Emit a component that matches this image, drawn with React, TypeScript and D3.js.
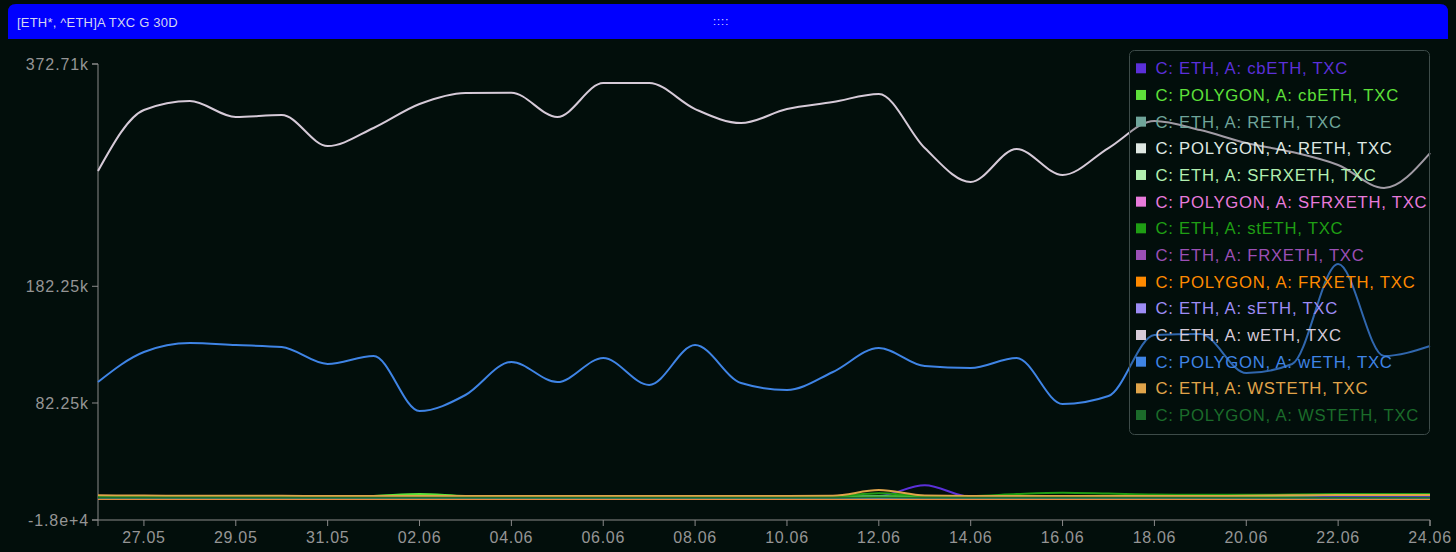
import React from "react";
import * as d3 from "d3";

const title = "[ETH*, ^ETH]A TXC G 30D";
const dragHandle = "::::";

const dates = [
  "2023-05-26", "2023-05-27", "2023-05-28", "2023-05-29", "2023-05-30", "2023-05-31",
  "2023-06-01", "2023-06-02", "2023-06-03", "2023-06-04", "2023-06-05", "2023-06-06",
  "2023-06-07", "2023-06-08", "2023-06-09", "2023-06-10", "2023-06-11", "2023-06-12",
  "2023-06-13", "2023-06-14", "2023-06-15", "2023-06-16", "2023-06-17", "2023-06-18",
  "2023-06-19", "2023-06-20", "2023-06-21", "2023-06-22", "2023-06-23", "2023-06-24",
];

const seriesNames = [
  "C: ETH, A: cbETH, TXC",
  "C: POLYGON, A: cbETH, TXC",
  "C: ETH, A: RETH, TXC",
  "C: POLYGON, A: RETH, TXC",
  "C: ETH, A: SFRXETH, TXC",
  "C: POLYGON, A: SFRXETH, TXC",
  "C: ETH, A: stETH, TXC",
  "C: ETH, A: FRXETH, TXC",
  "C: POLYGON, A: FRXETH, TXC",
  "C: ETH, A: sETH, TXC",
  "C: ETH, A: wETH, TXC",
  "C: POLYGON, A: wETH, TXC",
  "C: ETH, A: WSTETH, TXC",
  "C: POLYGON, A: WSTETH, TXC",
];

const seriesColors = [
  "#5b30d9", "#5ee03a", "#6fa59a", "#dfe8e2", "#b2f0b0", "#e87adb", "#1f9e14",
  "#9b4fb5", "#ff8a00", "#9d8cf5", "#d6cad8", "#3f84e5", "#e0a44a", "#1b6b2a",
];

// values in thousands of transactions
const ethCbeth = [1.8, 1.8, 1.8, 1.8, 1.8, 1.8, 1.8, 1.8, 1.8, 1.8, 1.8, 1.8, 1.8, 1.8, 1.8, 1.8, 1.8, 2.5, 11.8, 1.8, 1.8, 1.8, 1.8, 1.8, 1.8, 1.8, 1.8, 1.8, 1.8, 1.8];
const polygonCbeth = [2.0, 2.0, 2.0, 2.0, 2.0, 2.0, 2.6, 4.3, 2.6, 2.2, 2.2, 2.2, 2.2, 2.2, 2.2, 2.2, 2.2, 2.4, 2.3, 2.2, 2.2, 2.3, 2.3, 2.3, 2.3, 2.4, 2.8, 3.8, 4.2, 4.2];
const ethReth = [0.5, 0.5, 0.5, 0.5, 0.5, 0.5, 0.5, 0.5, 0.5, 0.5, 0.5, 0.5, 0.5, 0.5, 0.5, 0.5, 0.5, 0.6, 0.5, 0.5, 0.5, 0.5, 0.5, 0.5, 0.5, 0.5, 0.5, 0.5, 0.5, 0.5];
const polygonReth = [0, 0, 0, 0, 0, 0, 0, 0, 0, 0, 0, 0, 0, 0, 0, 0, 0, 0, 0, 0, 0, 0, 0, 0, 0, 0, 0, 0, 0, 0];
const ethSfrxeth = [0.3, 0.3, 0.3, 0.3, 0.3, 0.3, 0.3, 0.3, 0.3, 0.3, 0.3, 0.3, 0.3, 0.3, 0.3, 0.3, 0.3, 0.3, 0.3, 0.3, 0.3, 0.3, 0.3, 0.3, 0.3, 0.3, 0.3, 0.3, 0.3, 0.3];
const polygonSfrxeth = [0, 0, 0, 0, 0, 0, 0, 0, 0, 0, 0, 0, 0, 0, 0, 0, 0, 0, 0, 0, 0, 0, 0, 0, 0, 0, 0, 0, 0, 0];
const ethSteth = [2.2, 2.2, 2.2, 2.1, 2.1, 2.1, 2.2, 2.6, 2.2, 2.1, 2.1, 2.1, 2.1, 2.1, 2.1, 2.2, 2.4, 5.0, 2.6, 2.4, 4.2, 5.3, 4.6, 3.8, 3.6, 3.6, 3.8, 4.2, 4.3, 4.3];
const ethFrxeth = [0.2, 0.2, 0.2, 0.2, 0.2, 0.2, 0.2, 0.2, 0.2, 0.2, 0.2, 0.2, 0.2, 0.2, 0.2, 0.2, 0.2, 0.2, 0.2, 0.2, 0.2, 0.2, 0.2, 0.2, 0.2, 0.2, 0.2, 0.2, 0.2, 0.2];
const polygonFrxeth = [0, 0, 0, 0, 0, 0, 0, 0, 0, 0, 0, 0, 0, 0, 0, 0, 0, 0, 0, 0, 0, 0, 0, 0, 0, 0, 0, 0, 0, 0];
const ethSeth = [0.6, 0.6, 0.6, 0.6, 0.6, 0.6, 0.6, 0.6, 0.6, 0.6, 0.6, 0.6, 0.6, 0.6, 0.6, 0.6, 0.6, 0.6, 0.6, 0.6, 0.6, 0.6, 0.6, 0.6, 0.6, 0.6, 0.6, 0.6, 0.6, 0.6];
const ethWeth = [281.0, 333.3, 341.0, 327.3, 329.0, 302.4, 317.9, 338.4, 347.9, 348.1, 327.3, 356.4, 356.4, 334.1, 322.1, 334.1, 340.1, 347.0, 300.7, 271.6, 299.9, 277.6, 300.7, 323.9, 316.1, 305.0, 297.3, 286.2, 266.5, 296.4];
const polygonWeth = [100.2, 125.9, 133.6, 131.9, 130.2, 115.7, 122.5, 75.4, 89.1, 117.4, 100.2, 120.8, 97.7, 131.9, 99.4, 93.4, 108.8, 129.4, 113.9, 112.2, 120.8, 81.4, 88.2, 140.5, 141.4, 107.9, 115.7, 201.3, 122.5, 131.1];
const ethWsteth = [3.2, 2.9, 2.8, 2.7, 2.7, 2.6, 2.6, 2.6, 2.6, 2.6, 2.6, 2.6, 2.6, 2.6, 2.6, 2.6, 2.8, 7.6, 3.0, 2.6, 2.6, 2.6, 2.6, 2.6, 2.6, 2.7, 3.2, 3.4, 3.4, 3.4];
const polygonWsteth = [1.1, 1.1, 1.1, 1.1, 1.1, 1.1, 1.1, 1.1, 1.1, 1.1, 1.1, 1.1, 1.1, 1.1, 1.1, 1.1, 1.1, 1.2, 1.1, 1.1, 1.1, 1.1, 1.1, 1.1, 1.1, 1.1, 1.1, 1.1, 1.1, 1.1];

const seriesValues = [
  ethCbeth, polygonCbeth, ethReth, polygonReth, ethSfrxeth, polygonSfrxeth, ethSteth,
  ethFrxeth, polygonFrxeth, ethSeth, ethWeth, polygonWeth, ethWsteth, polygonWsteth,
];

const yTickValues = [-18000, 82250, 182250, 372710];
const yTickLabels = ["-1.8e+4", "82.25k", "182.25k", "372.71k"];

const FONT = "'Liberation Sans', Arial, Helvetica, sans-serif";

export default function App() {
  const W = 1456;
  const H = 552;
  const parse = d3.timeParse("%Y-%m-%d");
  const parsed = dates.map((d) => parse(d) as Date);

  const x = d3.scaleTime().domain([parsed[0], parsed[parsed.length - 1]]).range([98, 1430]);
  const y = d3.scaleLinear().domain([yTickValues[0], yTickValues[yTickValues.length - 1]]).range([520, 64]);

  const xTicks = d3.timeDay.range(d3.timeDay.offset(parsed[0], 1), d3.timeDay.offset(parsed[parsed.length - 1], 1), 2);
  const fmt = d3.timeFormat("%d.%m");

  const line = d3
    .line<number>()
    .x((_, i) => x(parsed[i]))
    .y((v) => y(v * 1000))
    .curve(d3.curveMonotoneX);

  const axisColor = "#8a8a8a";
  const labelColor = "#959595";

  const legendX = 1129.5;
  const legendY = 50.5;
  const legendRow = 26.67;

  const barX = 8, barY = 4, barW = 1440, barH = 35, r = 8;
  const barPath = `M${barX},${barY + barH} V${barY + r} Q${barX},${barY} ${barX + r},${barY} H${barX + barW - r} Q${barX + barW},${barY} ${barX + barW},${barY + r} V${barY + barH} Z`;

  return (
    <div style={{ position: "absolute", left: 0, top: 0, width: W, height: H }}>
      <svg width={W} height={H} style={{ display: "block", background: "#020e0b" }} fontFamily={FONT}>
        <rect x={0} y={0} width={W} height={H} fill="#020e0b" />
        <path d={barPath} fill="#0000ff" />
        <text x={17} y={26.5} fontSize={13} letterSpacing={0.2} fill="#d4d6f0">{title}</text>
        <text x={713} y={25} fontSize={11} fill="#e0e0ff" letterSpacing={1}>{dragHandle}</text>

        {/* y axis */}
        <path d={`M92,64H98V520H92`} fill="none" stroke={axisColor} strokeWidth={1} />
        {yTickValues.map((v, i) => (
          <g key={"yt" + i}>
            <line x1={92} x2={98} y1={y(v)} y2={y(v)} stroke={axisColor} />
            <text x={89} y={y(v)} dy="0.35em" textAnchor="end" fontSize={16} letterSpacing={0.9} fill={labelColor}>
              {yTickLabels[i]}
            </text>
          </g>
        ))}

        {/* x axis */}
        <path d={`M98,526V520H1430V526`} fill="none" stroke={axisColor} strokeWidth={1} />
        {xTicks.map((t, i) => (
          <g key={"xt" + i}>
            <line x1={x(t)} x2={x(t)} y1={520} y2={526} stroke={axisColor} />
            <text x={x(t)} y={543} textAnchor="middle" fontSize={16} letterSpacing={0.7} fill={labelColor}>
              {fmt(t)}
            </text>
          </g>
        ))}

        {/* lines */}
        {seriesValues.map((vals, i) => (
          <path key={"l" + i} d={line(vals) || ""} fill="none" stroke={seriesColors[i]} strokeWidth={2} />
        ))}

        {/* legend */}
        <rect x={legendX} y={legendY} width={300} height={384} rx={5} fill="rgba(2,14,11,0.25)" stroke="#3d4b49" strokeWidth={1} />
        {seriesNames.map((name, i) => {
          const cy = 68.3 + i * legendRow;
          return (
            <g key={"lg" + i}>
              <rect x={1136} y={cy - 5} width={10} height={10} fill={seriesColors[i]} />
              <text x={1155.5} y={cy} dy="0.36em" fontSize={16.7} letterSpacing={0.75} fill={seriesColors[i]}>
                {name}
              </text>
            </g>
          );
        })}
      </svg>
    </div>
  );
}
